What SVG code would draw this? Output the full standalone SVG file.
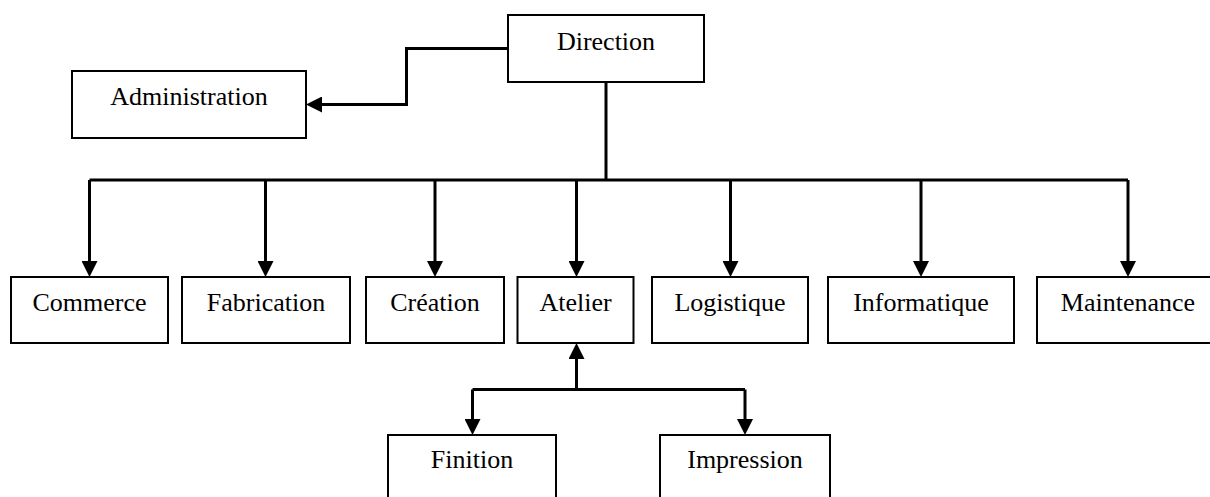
<svg xmlns="http://www.w3.org/2000/svg" width="1210" height="497" viewBox="0 0 1210 497">
  <style>
    .box { fill: #ffffff; stroke: #000000; stroke-width: 2; }
    .lbl { font-family: "Liberation Serif", "Times New Roman", serif; font-size: 26px; fill: #000000; text-anchor: middle; }
    .con { fill: none; stroke: #000000; stroke-width: 3; }
    .arr { fill: none; stroke: #000000; stroke-width: 3; marker-end: url(#ah); }
  </style>
  <defs>
    <marker id="ah" markerUnits="userSpaceOnUse" markerWidth="16" markerHeight="16" refX="12" refY="8" orient="auto" viewBox="0 0 16 16">
      <path d="M0,0 L16,8 L0,16 Z" fill="#000000"/>
    </marker>
  </defs>
  <rect width="1210" height="497" fill="#ffffff"/>

  <g id="connectors">
    <path class="arr" d="M508,48.5 H406.5 V104.5 H310"/>
    <path class="con" d="M606,82 V180"/>
    <path class="con" d="M89.5,180 H1128"/>
    <path class="arr" d="M89.5,180 V273"/>
    <path class="arr" d="M265.5,180 V273"/>
    <path class="arr" d="M435,180 V273"/>
    <path class="arr" d="M576.5,180 V273"/>
    <path class="arr" d="M730.5,180 V273"/>
    <path class="arr" d="M921,180 V273"/>
    <path class="arr" d="M1128,180 V273"/>
    <path class="arr" d="M576.5,389.5 V347"/>
    <path class="con" d="M472.5,389.5 H745"/>
    <path class="arr" d="M472.5,389.5 V431"/>
    <path class="arr" d="M745,389.5 V431"/>
  </g>

  <g id="direction">
    <rect class="box" x="508" y="15" width="196" height="67"/>
    <text class="lbl" x="606" y="50">Direction</text>
  </g>
  <g id="administration">
    <rect class="box" x="72" y="71" width="234" height="67"/>
    <text class="lbl" x="189" y="105">Administration</text>
  </g>
  <g id="commerce">
    <rect class="box" x="11" y="277" width="157" height="66"/>
    <text class="lbl" x="89.5" y="311">Commerce</text>
  </g>
  <g id="fabrication">
    <rect class="box" x="182" y="277" width="168" height="66"/>
    <text class="lbl" x="266" y="311">Fabrication</text>
  </g>
  <g id="creation">
    <rect class="box" x="366" y="277" width="138" height="66"/>
    <text class="lbl" x="435" y="311">Création</text>
  </g>
  <g id="atelier">
    <rect class="box" x="517.5" y="277" width="116" height="66"/>
    <text class="lbl" x="575.5" y="311">Atelier</text>
  </g>
  <g id="logistique">
    <rect class="box" x="652" y="277" width="156" height="66"/>
    <text class="lbl" x="730" y="311">Logistique</text>
  </g>
  <g id="informatique">
    <rect class="box" x="828" y="277" width="186" height="66"/>
    <text class="lbl" x="921" y="311">Informatique</text>
  </g>
  <g id="maintenance">
    <rect class="box" x="1037" y="277" width="182" height="66"/>
    <text class="lbl" x="1128" y="311">Maintenance</text>
  </g>
  <g id="finition">
    <rect class="box" x="388" y="435" width="168" height="80"/>
    <text class="lbl" x="472" y="468">Finition</text>
  </g>
  <g id="impression">
    <rect class="box" x="660" y="435" width="170" height="80"/>
    <text class="lbl" x="745" y="468">Impression</text>
  </g>
</svg>
